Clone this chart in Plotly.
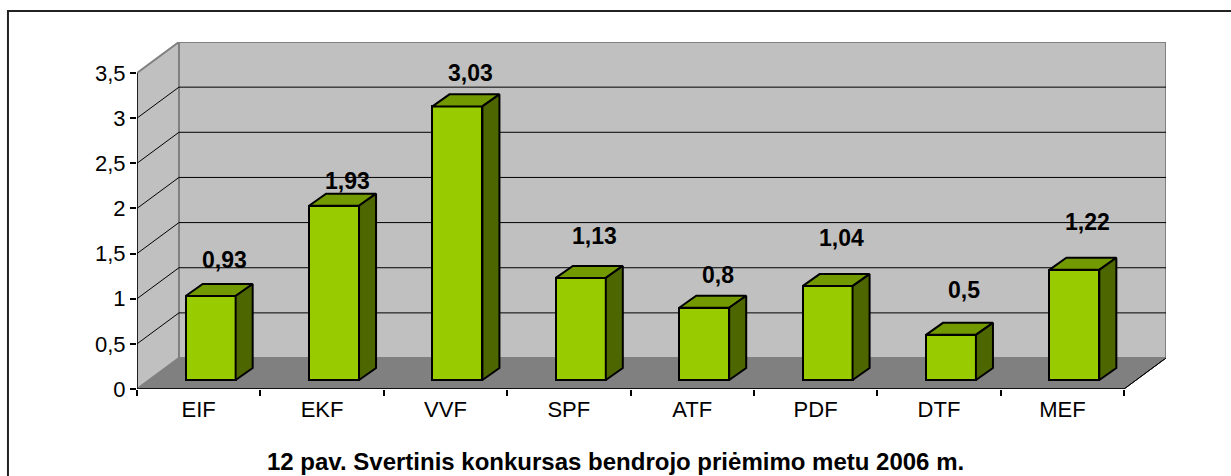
import plotly.graph_objects as go

# ---- data ----
categories = ["EIF", "EKF", "VVF", "SPF", "ATF", "PDF", "DTF", "MEF"]
values = [0.93, 1.93, 3.03, 1.13, 0.8, 1.04, 0.5, 1.22]
y_ticks = [0, 0.5, 1, 1.5, 2, 2.5, 3, 3.5]
title_text = "12 pav. Svertinis konkursas bendrojo priėmimo metu 2006 m."

# ---- styling / geometry (in axis units) ----
label_lift = [0.50, 0.37, 0.47, 0.56, 0.46, 0.63, 0.60, 0.63]
WALL_DX, WALL_DY = 0.34, 0.343        # depth of the whole 3D box
BAR_OX, BAR_OY = 0.097, 0.10          # bar front face offset into the box
BAR_DX, BAR_DY = 0.138, 0.133         # bar depth
BAR_W = 0.405
FONT = "Liberation Sans, Arial, sans-serif"
FACE, TOP, SIDE = "#99CC00", "#739900", "#4D6600"
WALL, FLOOR, WALL_EDGE = "#C0C0C0", "#808080", "#808080"

n = len(categories)
xs = list(range(n))
x_lo, x_hi = -0.5, n - 0.5
y_max = max(y_ticks)

fig = go.Figure()

shapes = []
# floor
shapes.append(dict(type="path", xref="x", yref="y", layer="below",
                   path=f"M {x_lo},0 L {x_hi},0 L {x_hi+WALL_DX},{WALL_DY} L {x_lo+WALL_DX},{WALL_DY} Z",
                   fillcolor=FLOOR, line=dict(color="#000000", width=1)))
# back wall
shapes.append(dict(type="rect", xref="x", yref="y", layer="below",
                   x0=x_lo + WALL_DX, x1=x_hi + WALL_DX, y0=WALL_DY, y1=y_max + WALL_DY,
                   fillcolor=WALL, line=dict(color=WALL_EDGE, width=2)))
# left wall
shapes.append(dict(type="path", xref="x", yref="y", layer="below",
                   path=f"M {x_lo},0 L {x_lo},{y_max} L {x_lo+WALL_DX},{y_max+WALL_DY} L {x_lo+WALL_DX},{WALL_DY} Z",
                   fillcolor=WALL, line=dict(color=WALL_EDGE, width=2)))
# gridlines
for v in y_ticks[1:-1]:
    shapes.append(dict(type="line", xref="x", yref="y", layer="below",
                       x0=x_lo + WALL_DX, x1=x_hi + WALL_DX, y0=v + WALL_DY, y1=v + WALL_DY,
                       line=dict(color="#000000", width=1)))
    shapes.append(dict(type="line", xref="x", yref="y", layer="below",
                       x0=x_lo, x1=x_lo + WALL_DX, y0=v, y1=v + WALL_DY,
                       line=dict(color="#000000", width=1)))
# floor right edge
shapes.append(dict(type="line", xref="x", yref="y", layer="below",
                   x0=x_hi, x1=x_hi + WALL_DX, y0=0, y1=WALL_DY,
                   line=dict(color="#000000", width=1)))
# axis lines
shapes.append(dict(type="line", xref="x", yref="y", x0=x_lo, x1=x_lo, y0=0, y1=y_max,
                   line=dict(color="#000000", width=1.5)))
shapes.append(dict(type="line", xref="x", yref="y", x0=x_lo, x1=x_hi, y0=0, y1=0,
                   line=dict(color="#000000", width=1.5)))
# outer frame
shapes.append(dict(type="rect", xref="paper", yref="paper",
                   x0=-0.1254, x1=1.08, y0=-0.3, y1=1.089,
                   line=dict(color="#222222", width=2), fillcolor="rgba(0,0,0,0)"))

# bar front faces
fig.add_trace(go.Bar(
    x=[x + BAR_OX for x in xs], y=values, base=[BAR_OY] * n, width=BAR_W,
    marker=dict(color=FACE, line=dict(color="#000000", width=2)),
    hoverinfo="skip", showlegend=False))

# top & side faces
top_x, top_y, side_x, side_y = [], [], [], []
for x, v in zip(xs, values):
    l = x + BAR_OX - BAR_W / 2
    r = x + BAR_OX + BAR_W / 2
    t = v + BAR_OY
    top_x += [l, r, r + BAR_DX, l + BAR_DX, l, None]
    top_y += [t, t, t + BAR_DY, t + BAR_DY, t, None]
    side_x += [r, r + BAR_DX, r + BAR_DX, r, r, None]
    side_y += [BAR_OY, BAR_OY + BAR_DY, t + BAR_DY, t, BAR_OY, None]

fig.add_trace(go.Scatter(x=top_x, y=top_y, mode="lines", fill="toself", fillcolor=TOP,
                         line=dict(color="#000000", width=2), hoverinfo="skip", showlegend=False))
fig.add_trace(go.Scatter(x=side_x, y=side_y, mode="lines", fill="toself", fillcolor=SIDE,
                         line=dict(color="#000000", width=2), hoverinfo="skip", showlegend=False))

annotations = []
for x, v, lift in zip(xs, values, label_lift):
    annotations.append(dict(x=x + BAR_OX + BAR_DX / 2 + 0.04, y=v + lift, xref="x", yref="y",
                            text=f"<b>{str(v).replace('.', ',')}</b>", showarrow=False,
                            font=dict(family=FONT, size=23, color="#000000")))
annotations.append(dict(x=0.4655, y=-0.2075, xref="paper", yref="paper", text=f"<b>{title_text}</b>",
                        showarrow=False, yanchor="middle",
                        font=dict(family=FONT, size=24, color="#000000")))

fig.update_layout(
    width=1231, height=476,
    margin=dict(l=137, r=65, t=42, b=87),
    paper_bgcolor="#FFFFFF", plot_bgcolor="rgba(0,0,0,0)",
    shapes=shapes, annotations=annotations, bargap=0,
    font=dict(family=FONT, size=22, color="#000000"),
    xaxis=dict(range=[x_lo, x_hi + WALL_DX], tickvals=xs, ticktext=categories,
               showgrid=False, zeroline=False, showline=False, ticks="",
               ticklabelstandoff=5,
               minor=dict(tickvals=[x - 0.5 for x in range(n + 1)], ticks="outside",
                          ticklen=6, tickcolor="#000000", tickwidth=1.5, showgrid=False),
               fixedrange=True),
    yaxis=dict(range=[0, y_max + WALL_DY], tickvals=y_ticks,
               ticktext=[str(t).replace(".", ",") if t % 1 else str(int(t)) for t in y_ticks],
               showgrid=False, zeroline=False, showline=False, ticks="outside",
               ticklen=6, tickcolor="#000000", tickwidth=1.5, fixedrange=True),
)

fig.write_html("out.html", config={"displayModeBar": False},
               post_script="document.body.style.margin='0px';")
